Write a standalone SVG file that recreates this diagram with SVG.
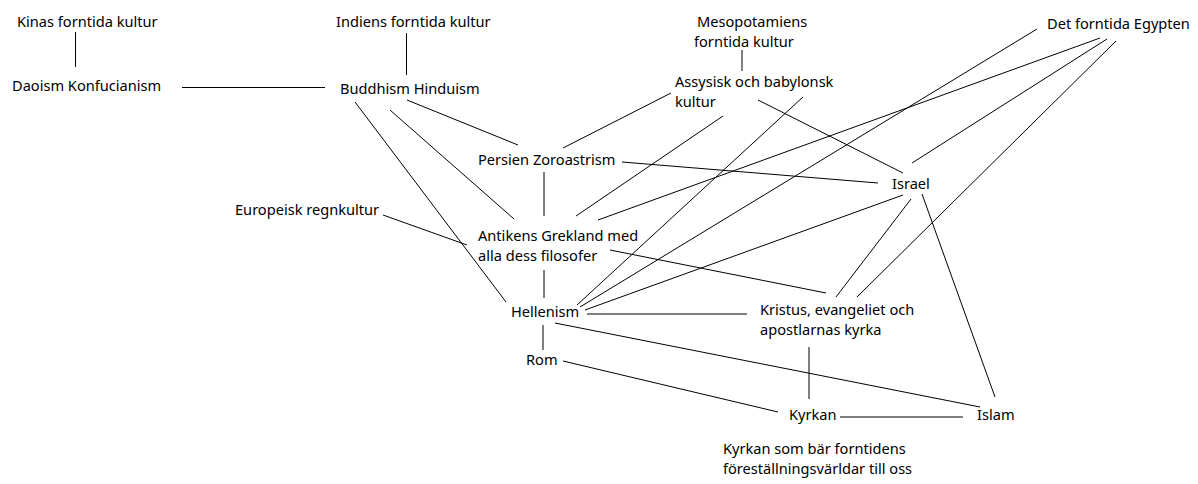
<svg xmlns="http://www.w3.org/2000/svg" width="1198" height="484" viewBox="0 0 1198 484">
<style>
text{font-family:"Noto Sans","Open Sans","DejaVu Sans",sans-serif;font-size:14.6px;fill:#000}
line{stroke:#000;stroke-width:1;fill:none}
</style>
<rect width="1198" height="484" fill="#fff"/>
<g id="connectors">
<line x1="75.5" y1="32" x2="75.5" y2="67"/>
<line x1="182" y1="87.5" x2="325" y2="87.5"/>
<line x1="406.5" y1="33" x2="406.5" y2="75"/>
<line x1="742" y1="50" x2="742" y2="71"/>
<line x1="355" y1="102" x2="506" y2="302"/>
<line x1="390" y1="110" x2="514" y2="219"/>
<line x1="407" y1="100" x2="518" y2="145"/>
<line x1="671" y1="93" x2="563" y2="148"/>
<line x1="723" y1="116" x2="576" y2="216"/>
<line x1="758" y1="100" x2="903" y2="173"/>
<line x1="803" y1="97" x2="577" y2="305"/>
<line x1="622" y1="162" x2="878" y2="183"/>
<line x1="544" y1="172" x2="544" y2="216"/>
<line x1="383" y1="215" x2="467" y2="245"/>
<line x1="544" y1="270" x2="544" y2="298"/>
<line x1="1037" y1="29" x2="580" y2="307"/>
<line x1="1100" y1="38" x2="598" y2="220"/>
<line x1="1107" y1="39" x2="912" y2="163"/>
<line x1="1116" y1="41" x2="857" y2="297"/>
<line x1="903" y1="195" x2="585" y2="310"/>
<line x1="911" y1="199" x2="836" y2="297"/>
<line x1="922" y1="194" x2="995" y2="397"/>
<line x1="610" y1="250" x2="826" y2="293"/>
<line x1="587" y1="314" x2="747" y2="314"/>
<line x1="543" y1="325" x2="543" y2="350"/>
<line x1="555" y1="323" x2="980" y2="407"/>
<line x1="563" y1="361" x2="778" y2="412"/>
<line x1="809" y1="347" x2="809" y2="399"/>
<line x1="840" y1="417" x2="963" y2="417"/>
</g>
<g id="kina"><text x="17" y="27">Kinas forntida kultur</text></g>
<g id="daoism"><text x="12" y="91">Daoism Konfucianism</text></g>
<g id="indien"><text x="336" y="27">Indiens forntida kultur</text></g>
<g id="buddhism"><text x="340" y="94">Buddhism Hinduism</text></g>
<g id="mesopotamien"><text x="697" y="27">Mesopotamiens</text><text x="694" y="47">forntida kultur</text></g>
<g id="assyrisk"><text x="675" y="87">Assysisk och babylonsk</text><text x="675" y="107">kultur</text></g>
<g id="egypten"><text x="1047" y="29">Det forntida Egypten</text></g>
<g id="persien"><text x="478" y="165">Persien Zoroastrism</text></g>
<g id="israel"><text x="892" y="189">Israel</text></g>
<g id="europeisk"><text x="235" y="215">Europeisk regnkultur</text></g>
<g id="antikens"><text x="478" y="241">Antikens Grekland med</text><text x="478" y="261">alla dess filosofer</text></g>
<g id="hellenism"><text x="511" y="317">Hellenism</text></g>
<g id="kristus"><text x="760" y="315">Kristus, evangeliet och</text><text x="760" y="335">apostlarnas kyrka</text></g>
<g id="rom"><text x="526" y="365">Rom</text></g>
<g id="kyrkan"><text x="789" y="420">Kyrkan</text></g>
<g id="islam"><text x="977" y="420">Islam</text></g>
<g id="kyrkan-som-bar"><text x="723" y="454">Kyrkan som bär forntidens</text><text x="723" y="474">föreställningsvärldar till oss</text></g>
</svg>
